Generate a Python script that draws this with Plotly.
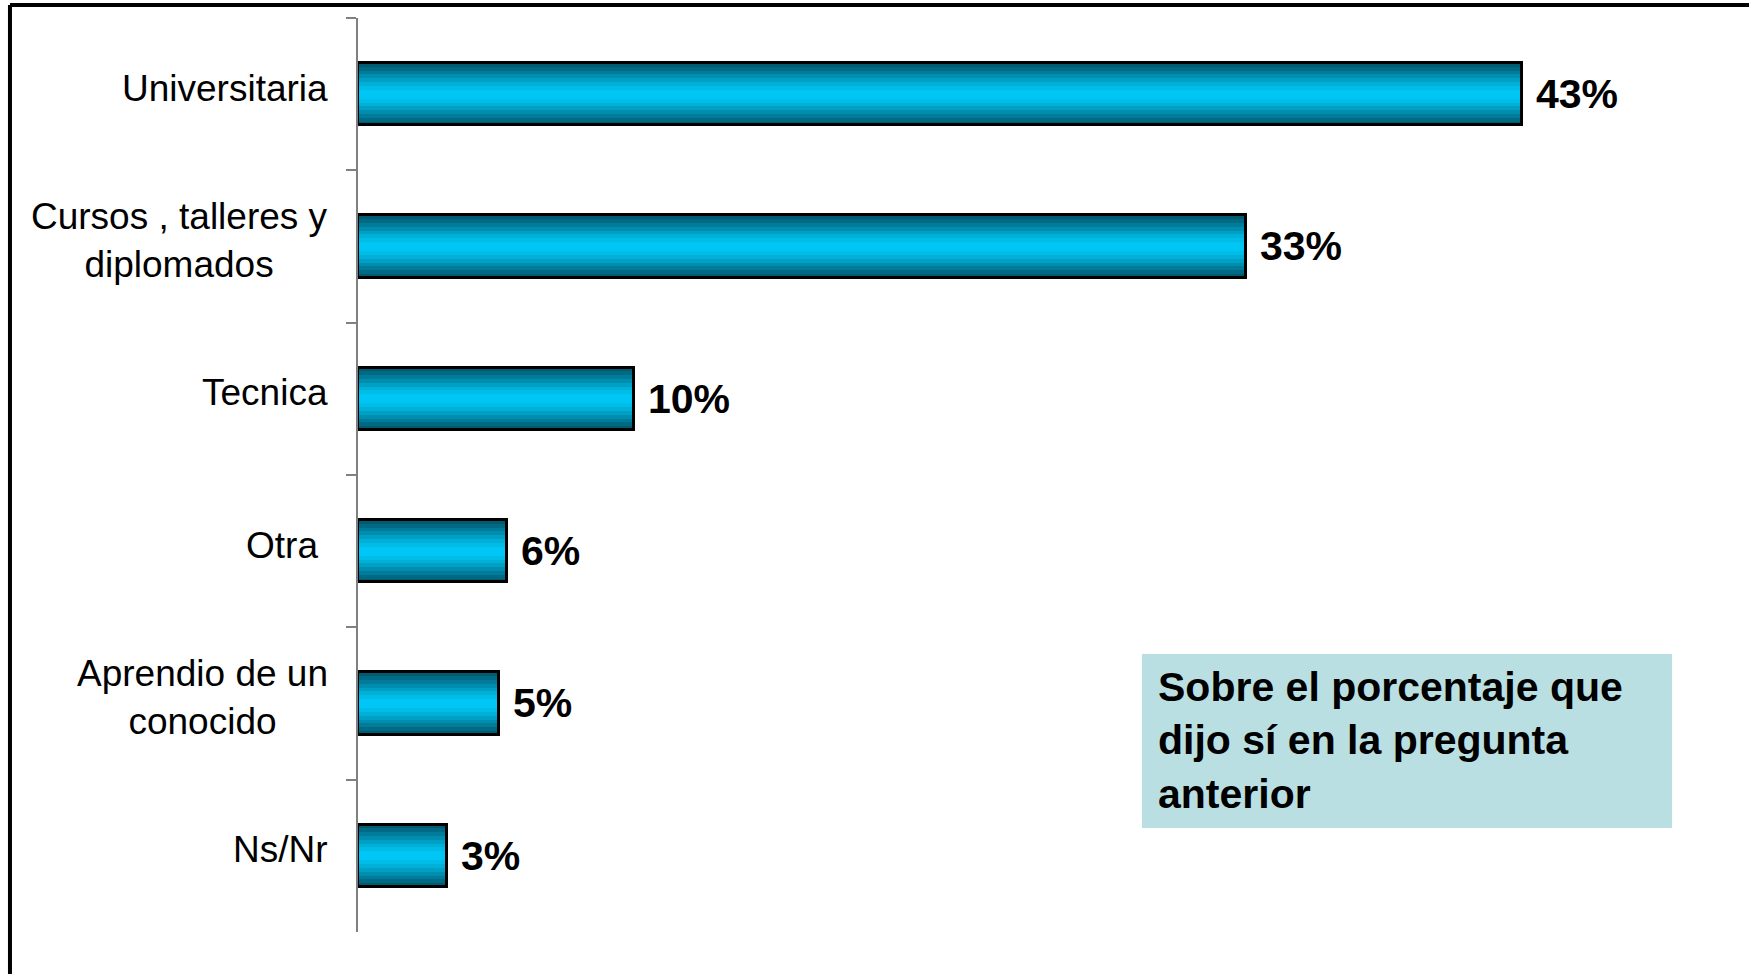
import plotly.graph_objects as go

# data
categories = ['Universitaria', 'Cursos , talleres y<br>diplomados', 'Tecnica',
              'Otra\u00a0', 'Aprendio de un<br>conocido', 'Ns/Nr']
values = [43.0, 32.8, 10.2, 5.5, 5.2, 3.3]
value_labels = ['43%', '33%', '10%', '6%', '5%', '3%']

note = 'Sobre el porcentaje que<br>dijo sí en la pregunta<br>anterior'

# bands for the cylinder-like shading, outer (dark) to inner (bright)
band_colors = ['#005A70', '#006A85', '#007C9A', '#008EB0',
               '#00A0C4', '#00B0D8', '#00BDE8', '#00C6F5']
band_widths = [0.41, 0.36, 0.31, 0.26, 0.21, 0.16, 0.11, 0.06]

FONT = 'Liberation Sans, Arial, sans-serif'

fig = go.Figure()

for col, w in zip(band_colors, band_widths):
    fig.add_trace(go.Bar(
        x=values, y=categories, orientation='h',
        width=[w] * len(values),
        marker=dict(color=col, line=dict(width=0)),
        showlegend=False, hoverinfo='skip'))

# outline + value labels on top
fig.add_trace(go.Bar(
    x=values, y=categories, orientation='h',
    width=[0.41] * len(values),
    marker=dict(color='rgba(0,0,0,0)', line=dict(color='black', width=3)),
    text=[' ' + t for t in value_labels],
    textposition='outside', constraintext='none', cliponaxis=False,
    textfont=dict(family=FONT, size=41, color='black', weight='bold'),
    showlegend=False, hoverinfo='skip'))

# category labels, centred lines like the original
for cat in categories:
    fig.add_annotation(
        x=0, xref='paper', y=cat, yref='y',
        xanchor='right', yanchor='middle', xshift=-28, yshift=6,
        text=cat, showarrow=False, align='center',
        font=dict(family=FONT, size=37, color='black'))

# note box
fig.add_shape(type='rect', xref='paper', yref='paper',
              x0=0.5636, x1=0.9447, y0=0.1138, y1=0.3042,
              fillcolor='#B9DFE3', line=dict(width=0), layer='below')
fig.add_annotation(
    x=0.5745, xref='paper', y=0.209, yref='paper',
    xanchor='left', yanchor='middle', text=note, showarrow=False,
    align='left', borderpad=0,
    font=dict(family=FONT, size=41, color='black', weight='bold'))

# frame (only top and left edges are visible)
fig.add_shape(type='line', xref='paper', yref='paper',
              x0=-0.2502, x1=1.01, y0=1.0142, y1=1.0142,
              line=dict(color='black', width=4))
fig.add_shape(type='line', xref='paper', yref='paper',
              x0=-0.2502, x1=-0.2502, y0=1.0142, y1=-0.06,
              line=dict(color='black', width=4))

fig.update_layout(
    width=1749, height=974,
    barmode='overlay', bargap=0,
    plot_bgcolor='white', paper_bgcolor='white',
    margin=dict(l=358, r=0, t=18, b=42),
    font=dict(family=FONT),
)
fig.update_xaxes(range=[0, 51.4], showgrid=False, zeroline=False,
                 showline=False, showticklabels=False, ticks='')
fig.update_yaxes(autorange='reversed', showgrid=False, zeroline=False,
                 showline=True, linecolor='#808080', linewidth=1.5,
                 ticks='outside', tickson='boundaries', ticklen=10,
                 tickcolor='#808080', tickwidth=1.5, showticklabels=False)

# drop the browser's default page margin so the figure sits at 0,0
fig.write_html('out.html', config={'displayModeBar': False},
               post_script="document.body.style.margin='0px';")
